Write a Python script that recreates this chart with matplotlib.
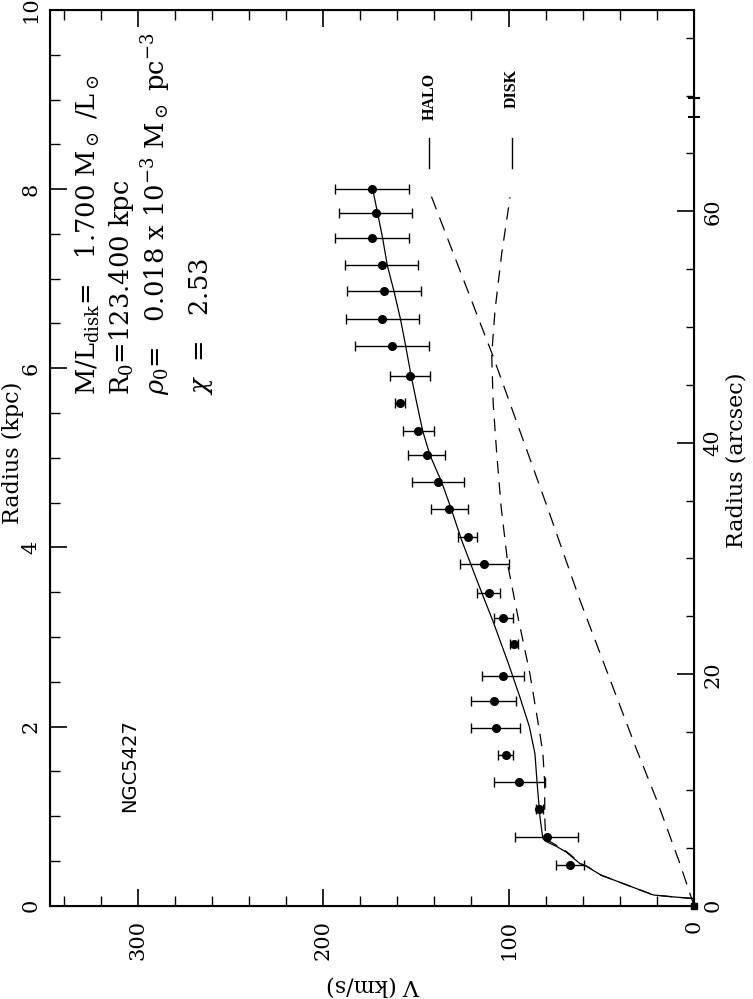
import matplotlib
matplotlib.use("Agg")
import matplotlib.pyplot as plt
from matplotlib.ticker import MultipleLocator

plt.rcParams['font.family'] = ['DejaVu Serif']
plt.rcParams['mathtext.fontset'] = 'dejavuserif'

# observed rotation curve (radius in kpc, velocity in km/s)
r_obs = [8.00, 7.73, 7.45, 7.15, 6.86, 6.55, 6.25, 5.91, 5.61, 5.30, 5.03, 4.73, 4.43,
         4.12, 3.81, 3.49, 3.21, 2.92, 2.57, 2.29, 1.98, 1.68, 1.38, 1.08, 0.77, 0.45]
v_obs = [173.6, 171.7, 173.5, 168.4, 167.2, 168.1, 162.7, 153.2, 158.6, 148.7, 144.2, 137.9, 132.1,
         122.1, 113.1, 110.7, 102.8, 97.1, 102.8, 107.9, 107.0, 101.6, 94.2, 83.4, 79.5, 66.7]
v_err = [20.0, 19.8, 20.0, 19.8, 19.8, 19.8, 20.0, 10.8, 2.5, 8.3, 9.8, 14.0, 10.0,
         5.0, 13.2, 6.1, 5.3, 2.0, 11.3, 12.1, 13.4, 4.0, 13.6, 2.0, 17.0, 7.5]

# best fit total curve
r_tot = [0.08, 0.10, 0.12, 0.175, 0.23, 0.34, 0.44, 0.47, 0.60, 0.66, 0.72, 0.75, 0.98, 1.29,
         1.70, 2.00, 2.33, 2.71, 3.17, 3.64, 4.08, 4.47, 4.73, 5.03, 5.30, 5.61, 5.91, 6.25,
         6.55, 6.86, 7.15, 7.45, 7.73, 8.00]
v_tot = [0.5, 12.0, 22.0, 29.0, 36.0, 50.0, 58.0, 61.5, 69.0, 74.0, 80.0, 81.5, 83.0, 84.3,
         85.8, 88.8, 93.9, 100.2, 108.3, 117.2, 125.3, 131.6, 136.1, 142.4, 146.3, 149.5, 152.5, 155.5,
         158.3, 161.8, 165.4, 167.9, 170.6, 173.3]

# halo component
r_halo = [0.0, 0.47, 1.18, 1.74, 3.41, 4.42, 6.13, 7.96]
v_halo = [0.0, 7.6, 20.1, 30.9, 61.5, 78.6, 108.3, 142.4]

# disk component
r_disk = [0.08, 0.10, 0.12, 0.175, 0.23, 0.34, 0.44, 0.47, 0.60, 0.66, 0.72, 0.75, 1.00, 1.37,
          1.70, 1.92, 2.59, 3.21, 3.78, 4.45, 5.05, 5.61, 6.15, 6.65, 7.28, 7.91]
v_disk = [0.5, 12.0, 21.9, 29.0, 36.0, 50.0, 57.8, 61.0, 68.5, 73.0, 78.0, 80.0, 80.5, 80.5,
          81.5, 83.1, 88.5, 94.8, 100.2, 104.0, 106.4, 108.3, 109.1, 107.3, 103.7, 99.2]

kpc_to_arcsec = 7.739
beam_r, beam_err = 8.91, 0.106

fig = plt.figure(figsize=(7.53, 9.99), dpi=100)
ax = fig.add_axes([50 / 753, 1 - 905.7 / 999, 644 / 753, 895.7 / 999])

ax.errorbar(v_obs, r_obs, xerr=v_err, fmt='o', color='black', ms=5.5,
            elinewidth=1.0, capsize=3.5, capthick=1.0)
ax.plot(v_tot, r_tot, color='black', lw=0.9)
ax.plot(v_halo, r_halo, color='black', lw=0.9, dashes=(11, 7))
ax.plot(v_disk, r_disk, color='black', lw=0.9, dashes=(10, 7))
ax.plot([0], [0], 's', color='black', ms=5, clip_on=False)

# beam marker on the right axis
eb = ax.errorbar([0], [beam_r], yerr=beam_err, fmt='none', ecolor='black',
                 elinewidth=1.5, capsize=4.5, capthick=1.5)
for art in eb.get_children():
    art.set_clip_on(False)

# legend keys
ax.plot([142.9, 142.9], [8.24, 8.57], color='black', lw=1.0)
ax.plot([98.3, 98.3], [8.24, 8.57], color='black', lw=1.0)
ax.text(142.5, 8.77, 'HALO', rotation=90, ha='center', va='bottom',
        fontsize=11.5, fontweight='bold', family='Liberation Serif')
ax.text(98.3, 8.91, 'DISK', rotation=90, ha='center', va='bottom',
        fontsize=11.5, fontweight='bold', family='Liberation Serif')

# fit parameters
ax.text(326.9, 5.70, r'M/L$_{\rm disk}$=   1.700 M$_\odot$ /L$_\odot$', rotation=90,
        ha='center', va='bottom', fontsize=18.5)
ax.text(309.0, 5.70, r'R$_0$=123.400 kpc', rotation=90,
        ha='center', va='bottom', fontsize=18.5)
ax.text(290.0, 5.70, r'$\rho_0$=   0.018 x 10$^{-3}$ M$_\odot$ pc$^{-3}$', rotation=90,
        ha='center', va='bottom', fontsize=18.5)
ax.text(265.9, 5.70, r'$\chi$  =   2.53', rotation=90,
        ha='center', va='bottom', fontsize=18.5)
ax.text(304.2, 1.05, 'NGC5427', rotation=90, ha='center', va='bottom',
        fontsize=14, family='DejaVu Sans')

ax.set_xlim(347.3, 0)
ax.set_ylim(0, 10)
ax.xaxis.set_major_locator(MultipleLocator(100))
ax.xaxis.set_minor_locator(MultipleLocator(20))
ax.yaxis.set_major_locator(MultipleLocator(2))
ax.yaxis.set_minor_locator(MultipleLocator(0.5))
ax.tick_params(axis='x', which='both', direction='in', top=True, bottom=True,
               labelrotation=90, labelsize=15, pad=10)
ax.tick_params(axis='y', which='both', direction='in', left=True, right=False,
               labelrotation=90, labelsize=15, pad=7)
ax.tick_params(which='major', length=12, width=1.2)
ax.tick_params(which='minor', length=7, width=1.0)
for s in ax.spines.values():
    s.set_linewidth(1.5)

ax2 = ax.twinx()
ax2.set_ylim(0, 10 * kpc_to_arcsec)
ax2.yaxis.set_major_locator(MultipleLocator(20))
ax2.yaxis.set_minor_locator(MultipleLocator(5))
ax2.tick_params(axis='y', which='both', direction='in', labelrotation=90,
                labelsize=15, pad=7)
ax2.tick_params(which='major', length=12, width=1.2)
ax2.tick_params(which='minor', length=6, width=1.0)
for lab in ax2.get_yticklabels():
    lab.set_va('center')
for lab in ax.get_yticklabels():
    lab.set_va('center')

fig.text(13 / 753, 1 - 453 / 999, 'Radius (kpc)', rotation=90, ha='center', va='center', fontsize=16)
fig.text(737 / 753, 1 - 460 / 999, 'Radius (arcsec)', rotation=90, ha='center', va='center', fontsize=16)
fig.text(373 / 753, 1 - 986 / 999, 'V (km/s)', rotation=180, ha='center', va='center', fontsize=16)

fig.savefig('out.png', dpi=100)
